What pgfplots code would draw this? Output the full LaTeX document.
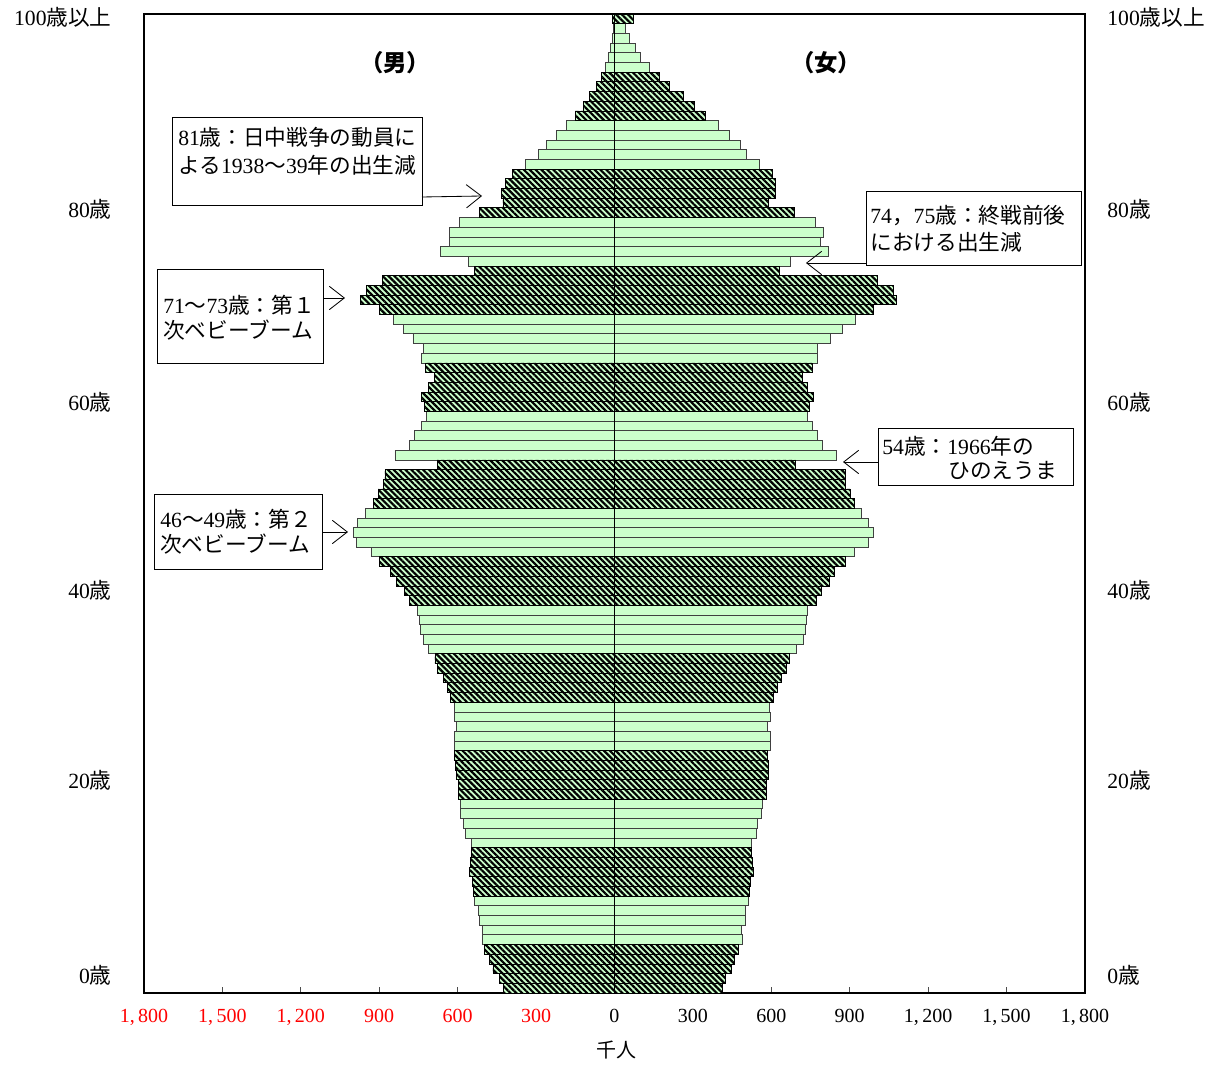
\documentclass[border=0pt]{standalone}
\usepackage{fontspec}
\setmainfont{Liberation Serif}
\newfontfamily\cjk{Noto Sans CJK JP}
\newcommand\jp[1]{{\cjk #1}}
\usepackage{pgfplots}
\pgfplotsset{compat=1.18}
\usepackage{pgfplotstable}
\usetikzlibrary{patterns.meta, arrows.meta}

\definecolor{lg}{HTML}{CCFFCC}

% population by age, thousands (m = male, f = female)
\pgfplotstableread{
age m f
0 426 412
1 441 426
2 465 449
3 479 460
4 496 475
10 539 517
11 543 521
12 554 531
13 551 528
14 546 524
20 597 582
21 597 582
22 604 589
23 608 589
24 611 585
30 627 607
31 638 623
32 656 640
33 677 657
34 687 668
40 786 772
41 805 791
42 835 821
43 857 843
44 898 884
50 922 917
51 903 903
52 884 883
53 878 883
54 679 692
60 728 747
61 737 760
62 712 739
63 690 720
64 723 756
70 900 992
71 973 1080
72 948 1067
73 887 1005
74 536 630
80 516 687
81 427 589
82 431 617
83 417 617
84 390 603
90 150 347
91 120 307
92 97 265
93 68 210
94 49 173
100 7 74
}\hatched

\pgfplotstableread{
age m f
5 507 490
6 507 487
7 518 502
8 521 502
9 535 511
15 546 524
16 569 543
17 578 548
18 588 562
19 588 566
25 614 596
26 614 596
27 604 585
28 614 596
29 614 593
35 712 696
36 732 722
37 743 730
38 745 734
39 753 737
45 932 917
46 986 971
47 1000 989
48 982 971
49 952 944
55 840 848
56 786 797
57 767 777
58 739 756
59 720 739
65 739 777
66 732 777
67 771 825
68 806 873
69 846 921
75 559 674
76 666 818
77 630 786
78 630 799
79 593 767
85 341 555
86 291 505
87 259 480
88 221 439
89 184 398
95 34 134
96 25 98
97 14 78
98 7 57
99 3 40
}\light

\begin{document}
\begin{tikzpicture}
\begin{axis}[
    name=ax,
    width=564.6pt, height=587.4pt, scale only axis,
    xmin=-1800, xmax=1800, ymin=-0.5, ymax=100.5,
    xbar, bar width=1, bar shift=0pt,
    xtick={-1800,-1500,-1200,-900,-600,-300,0,300,600,900,1200,1500,1800},
    xticklabels={\textcolor{red}{1,\,800},\textcolor{red}{1,\,500},\textcolor{red}{1,\,200},
      \textcolor{red}{900},\textcolor{red}{600},\textcolor{red}{300},0,300,600,900,
      {1,\,200},{1,\,500},{1,\,800}},
    xtick pos=bottom, tick align=inside, major tick length=3.5pt,
    major tick style={black!70, line width=0.5pt},
    xticklabel style={font=\fontsize{12}{14}\selectfont, yshift=-6pt},
    ytick=\empty,
    axis line style={line width=1.1pt},
    clip=false,
]
\addplot[draw=black!75, line width=0.45pt, fill=lg]
  table[x expr=-\thisrow{m}, y=age]{\light};
\addplot[draw=black!75, line width=0.45pt, fill=lg]
  table[x=f, y=age]{\light};
\addplot[draw=black, line width=0.45pt, fill=lg,
  postaction={pattern={Lines[angle=-45,distance=2.5pt,line width=1.3pt]}, pattern color=black}]
  table[x expr=-\thisrow{m}, y=age]{\hatched};
\addplot[draw=black, line width=0.45pt, fill=lg,
  postaction={pattern={Lines[angle=-45,distance=2.5pt,line width=1.3pt]}, pattern color=black}]
  table[x=f, y=age]{\hatched};
\draw[black, line width=0.7pt] (axis cs:0,-0.5) -- (axis cs:0,100.5);
\end{axis}

\begin{scope}[shift={(ax.south west)}, x=0.6pt, y=-0.6pt, shift={(-144,-993)},
    every node/.style={inner sep=0pt, font=\fontsize{13}{16}\selectfont}]
  % age labels, both sides
  \foreach \yy/\lab in {17/100\jp{歳以上}, 209/80\jp{歳}, 402/60\jp{歳}, 590/40\jp{歳}, 780/20\jp{歳}, 975/0\jp{歳}} {
    \node[anchor=east] at (112,\yy) {\lab};
    \node[anchor=west] at (1107,\yy) {\lab};
  }
  \node[font=\fontsize{14}{16}\selectfont\bfseries] at (395,63) {\jp{（男）}};
  \node[font=\fontsize{14}{16}\selectfont\bfseries] at (826,63) {\jp{（女）}};
  \node[font=\fontsize{12}{14}\selectfont] at (616,1050) {\jp{千人}};

  % notes
  \draw[line width=0.6pt, fill=white] (173,118) rectangle (422,206);
  \node[anchor=west] at (178,137) {81\jp{歳：日中戦争の動員に}};
  \node[anchor=west] at (178,165) {\jp{よる}1938\jp{～}39\jp{年の出生減}};
  \draw[line width=0.5pt, -{Straight Barb[length=9, width=14]}] (422,197) -- (482,196);

  \draw[line width=0.6pt, fill=white] (866,192) rectangle (1081,266);
  \node[anchor=west] at (870,216) {74\jp{，}75\jp{歳：終戦前後}};
  \node[anchor=west] at (870,242) {\jp{における出生減}};
  \draw[line width=0.5pt, -{Straight Barb[length=9, width=14]}] (866,263) -- (806,263);

  \draw[line width=0.6pt, fill=white] (158,270) rectangle (323,364);
  \node[anchor=west] at (163,305) {71\jp{～}73\jp{歳：第１}};
  \node[anchor=west] at (163,330) {\jp{次ベビーブーム}};
  \draw[line width=0.5pt, -{Straight Barb[length=9, width=14]}] (323,298) -- (345,298);

  \draw[line width=0.6pt, fill=white] (878,429) rectangle (1073,486);
  \node[anchor=west] at (882,446) {54\jp{歳：}1966\jp{年の}};
  \node[anchor=west] at (948,470) {\jp{ひのえうま}};
  \draw[line width=0.5pt, -{Straight Barb[length=9, width=14]}] (878,462) -- (843,462);

  \draw[line width=0.6pt, fill=white] (155,495) rectangle (322,570);
  \node[anchor=west] at (160,519) {46\jp{～}49\jp{歳：第２}};
  \node[anchor=west] at (160,544) {\jp{次ベビーブーム}};
  \draw[line width=0.5pt, -{Straight Barb[length=9, width=14]}] (322,532) -- (348,532);

  \pgfresetboundingbox
  \path (0,0) rectangle (1223,1066);
\end{scope}
\end{tikzpicture}
\end{document}
